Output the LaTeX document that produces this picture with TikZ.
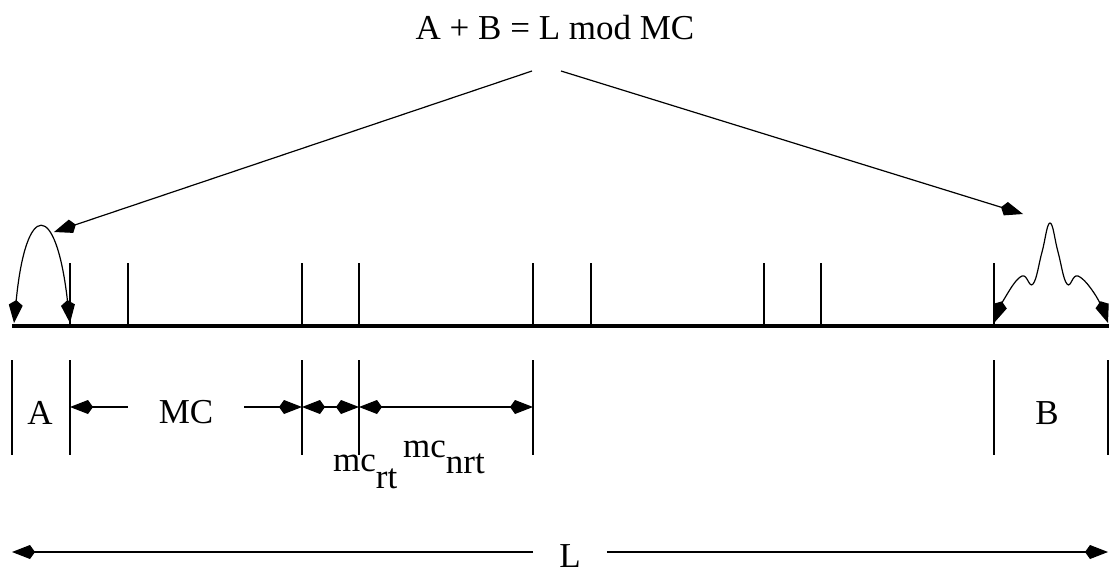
\documentclass[tikz,border=0pt]{standalone}
\usepackage{fontspec}
\setmainfont{Liberation Serif}
\usetikzlibrary{arrows.meta}

\begin{document}
\begin{tikzpicture}[x=1pt, y=-1pt,
					>={Kite[length=23pt, width=14pt, inset=5pt]},   %Pfeilspitzen
					duenn/.style={line width=1.2pt},
					balken/.style={line width=4.5pt},
					font=\fontsize{35}{40}\selectfont]
					%Bildbereich
					\useasboundingbox (0,0) rectangle (1110,582);
					% Ueberschrift mit Pfeilen
					\node[anchor=base] (titel) at (555,39) {A + B = L mod MC};
					\coordinate (ls) at (532,71);
					\coordinate (lz) at (54,232);
					\coordinate (rs) at (561,71);
					\coordinate (rz) at (1023,214);
					\draw[duenn,->] (ls) -- (lz);
					\draw[duenn,->] (rs) -- (rz);
					% Balken und Striche
					\coordinate (b0) at (12,326);
					\coordinate (b1) at (1109,326);
					\draw[balken] (b0) -- (b1);
					\foreach \x in {70,128,302,359,533,591,764,821,994} \draw[duenn] (\x,263) -- (\x,326);
					% Rest A links
					\coordinate (ka) at (14,323);
					\coordinate (kb) at (70,323);
					\draw[duenn,<->] (ka) .. controls (26,200) and (56,200) .. (kb);
					% Rest B rechts
					\draw[duenn,<->] plot[smooth, tension=0.7] coordinates {(994,323) (1006,296) (1022,276) (1033,284) (1042,252) (1050,223) (1058,252) (1067,284) (1078,276) (1096,296) (1108,323)};
					% Masslinien
					\foreach \n/\x in {a/12,b/70,c/302,d/359,e/533,f/994,g/1108} {
						\coordinate (o\n) at (\x,360);
						\coordinate (u\n) at (\x,455);
						\coordinate (d\n) at (\x,407);
						\draw[duenn] (o\n) -- (u\n);
					}
					\coordinate (la) at (12,552);
					\coordinate (lg) at (1108,552);
					% Beschriftung
					\node[anchor=base] (a) at (40,424) {A};
					\node[anchor=base] (b) at (1047,424) {B};
					\node[inner xsep=31pt] (mc) at (186,412) {MC};
					\draw[duenn,->] (mc.west |- db) -- (db);
					\draw[duenn,->] (mc.east |- dc) -- (dc);
					\draw[duenn,<->] (dc) -- (dd);
					\draw[duenn,<->] (dd) -- (de);
					\node[anchor=base west, inner sep=0pt] (nrt) at (403,457) {mc\raisebox{-16pt}{nrt}};
					\node[anchor=base west, inner sep=0pt] (rt) at (333,471) {mc\raisebox{-17pt}{rt}};
					% Gesamtlaenge
					\node[inner xsep=26pt] (l) at (570,556) {L};
					\draw[duenn,->] (l.west |- la) -- (la);
					\draw[duenn,->] (l.east |- lg) -- (lg);
				\end{tikzpicture}
\end{document}
